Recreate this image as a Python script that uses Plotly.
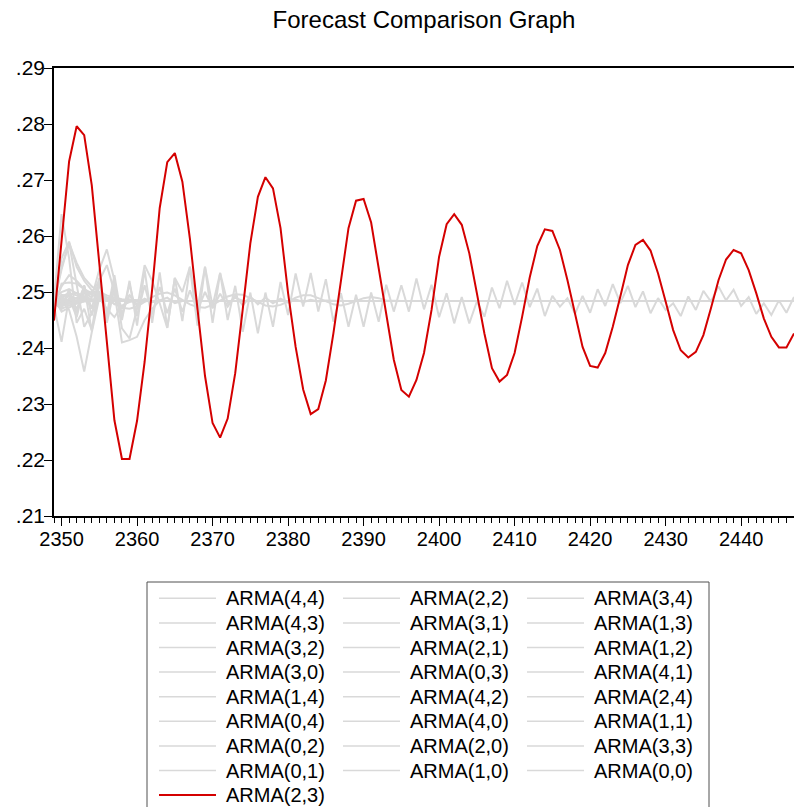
import plotly.graph_objects as go

periods = list(range(2349, 2448))
N = len(periods)
C = 0.2484

arma23 = [.2449, .2590, .2733, .2796, .2780, .2691, .2551, .2411, .2271, .2202,
          .2202, .2270, .2375, .2505, .2650, .2732, .2748, .2697, .2595, .2470,
          .2350, .2266, .2240, .2274, .2355, .2470, .2587, .2670, .2705, .2685,
          .2614, .2498, .2402, .2326, .2282, .2291, .2342, .2426, .2516, .2614,
          .2663, .2666, .2624, .2545, .2462, .2379, .2325, .2313, .2343, .2391,
          .2468, .2563, .2621, .2639, .2620, .2569, .2498, .2426, .2364, .2340,
          .2352, .2391, .2456, .2526, .2582, .2612, .2609, .2575, .2521, .2462,
          .2402, .2368, .2365, .2391, .2438, .2492, .2548, .2584, .2593, .2574,
          .2533, .2483, .2432, .2396, .2383, .2393, .2423, .2471, .2521, .2558,
          .2575, .2569, .2539, .2498, .2453, .2420, .2401, .2401, .2426]

zig_main = [.2484, .2475, .2500, .2478, .2510, .2470, .2525, .2460, .2530, .2450,
            .2520, .2440, .2540, .2445, .2535, .2436, .2525, .2448, .2545, .2440,
            .2545, .2445, .2534, .2450, .2511, .2429, .2499, .2426, .2499, .2438,
            .2518, .2459, .2533, .2474, .2534, .2465, .2523, .2447, .2498, .2438,
            .2495, .2438, .2499, .2447, .2513, .2465, .2512, .2465, .2524, .2469,
            .2513, .2455, .2498, .2444, .2491, .2444, .2483, .2456, .2508, .2471,
            .2520, .2477, .2517, .2473, .2506, .2457, .2493, .2474, .2489, .2461,
            .2493, .2463, .2505, .2475, .2514, .2480, .2511, .2473, .2501, .2462,
            .2489, .2468, .2480, .2457, .2492, .2468, .2502, .2483, .2510, .2485,
            .2504, .2475, .2491, .2461, .2480, .2459, .2485, .2463, .2491]

spike = [.2485, .2639, .2560, .2445, .2470, .2432, .2498, .2458, .2508, .2470,
         .2494, .2478, .2488, .2482, .2485]
hump_a = [.2480, .2540, .2588, .2516, .2438, .2462, .2500, .2490, .2478, .2485,
          .2487, .2483]
hump_b = [.2482, .2545, .2587, .2552, .2525, .2510, .2500, .2494, .2490, .2487,
          .2486, .2485]
hump_c = [.2478, .2560, .2590, .2545, .2520, .2503, .2495, .2490, .2487, .2485]
flat_hi = [.2470, .2515, .2517, .2515, .2505, .2498, .2493, .2489, .2487, .2485]
dip = [.2490, .2485, .2468, .2420, .2358, .2428, .2490, .2470, .2455, .2476,
       .2482, .2485]
zig_early = [.2475, .2411, .2490, .2455, .2510, .2430, .2520, .2445, .2506, .2462,
             .2495, .2475, .2487, .2482]
zig_decay = [.2484, .2470, .2505, .2462, .2512, .2458, .2515, .2455, .2516, .2455,
             .2514, .2457, .2512, .2460, .2509, .2462, .2506, .2465, .2503, .2468,
             .2500, .2471, .2497, .2474, .2494, .2476, .2492, .2478, .2490, .2480,
             .2488, .2481, .2487, .2482, .2486, .2483, .2485]
wobble = [.2484, .2478, .2482, .2490, .2497, .2500, .2496, .2488, .2479, .2472,
          .2470, .2474, .2482, .2491, .2497, .2499, .2494, .2486, .2478, .2473,
          .2472, .2477, .2485, .2492, .2496, .2495, .2489, .2482, .2476, .2474,
          .2477, .2483, .2490, .2494, .2494, .2489, .2483, .2478, .2476, .2479,
          .2484, .2489, .2491, .2489, .2485]
burst = [.2485, .2480, .2495, .2470, .2500, .2490, .2540, .2576, .2521, .2435,
         .2417, .2470, .2548, .2520, .2480, .2436, .2525, .2500, .2545, .2470,
         .2545, .2475, .2534, .2480, .2490, .2484]
low_dip = [.2485, .2475, .2480, .2470, .2490, .2500, .2520, .2548, .2500, .2410,
           .2414, .2420, .2450, .2470, .2485, .2490, .2480]
near_a = [.2475, .2495, .2492, .2488, .2486]
near_b = [.2492, .2478, .2480, .2483]
near_c = [.2486, .2500, .2505, .2497, .2490, .2486]
near_d = [.2480, .2470, .2476, .2481, .2483]
near_e = [.2484, .2489, .2495, .2498, .2493, .2487, .2485]
near_f = [.2478, .2510, .2530, .2520, .2505, .2495, .2489, .2486]
near_g = [.2490, .2465, .2472, .2480, .2484]
near_h = [.2484, .2484]
near_i = [.2482, .2488, .2486]
near_j = [.2479, .2492, .2498, .2494, .2488, .2485]

# legend order (row-major, 3 columns)
names = ["ARMA(4,4)", "ARMA(2,2)", "ARMA(3,4)",
         "ARMA(4,3)", "ARMA(3,1)", "ARMA(1,3)",
         "ARMA(3,2)", "ARMA(2,1)", "ARMA(1,2)",
         "ARMA(3,0)", "ARMA(0,3)", "ARMA(4,1)",
         "ARMA(1,4)", "ARMA(4,2)", "ARMA(2,4)",
         "ARMA(0,4)", "ARMA(4,0)", "ARMA(1,1)",
         "ARMA(0,2)", "ARMA(2,0)", "ARMA(3,3)",
         "ARMA(0,1)", "ARMA(1,0)", "ARMA(0,0)",
         "ARMA(2,3)"]
gray_data = [zig_main, spike, hump_a, hump_b, hump_c, flat_hi, dip, zig_early,
             zig_decay, wobble, burst, low_dip, near_a, near_b, near_c, near_d,
             near_e, near_f, near_g, near_h, near_i, near_j, near_a, near_b]


def pad(v):
    return list(v) + [C] * (N - len(v))


GRAY = "#d9d9d9"
RED = "#d40000"
FONT = "Liberation Sans, Arial, sans-serif"

fig = go.Figure()
for nm, vals in zip(names[:-1], gray_data):
    fig.add_trace(go.Scatter(x=periods, y=pad(vals), mode="lines", name=nm,
                             line=dict(color=GRAY, width=2), showlegend=False))
fig.add_trace(go.Scatter(x=periods, y=arma23, mode="lines", name=names[-1],
                         line=dict(color=RED, width=2), showlegend=False))

# plot-area geometry in pixels
L, R, T, B = 54, 794, 68, 516
W, H = R - L, B - T


def px(x):
    return (x - L) / W


def py(y):
    return (B - y) / H


shapes = [dict(type="rect", xref="paper", yref="paper",
               x0=px(147), x1=px(709), y0=py(582), y1=py(840),
               line=dict(color="#505050", width=1), fillcolor="white", layer="below")]
annotations = []
col_line_x = [159, 343, 527]
col_text_x = [226, 410, 594]
row0, pitch = 598.3, 24.6
for i, nm in enumerate(names):
    r, c = divmod(i, 3)
    yy = row0 + r * pitch
    color = RED if nm == "ARMA(2,3)" else GRAY
    shapes.append(dict(type="line", xref="paper", yref="paper",
                       x0=px(col_line_x[c]), x1=px(col_line_x[c] + 57),
                       y0=py(yy), y1=py(yy), line=dict(color=color, width=2 if color == RED else 1.5)))
    annotations.append(dict(xref="paper", yref="paper", x=px(col_text_x[c] - 2), y=py(yy),
                            xanchor="left", yanchor="middle", text=nm, showarrow=False,
                            font=dict(family=FONT, size=20, color="black")))

fig.update_layout(
    width=794, height=807,
    margin=dict(l=L, r=794 - R, t=T, b=807 - B, pad=0),
    paper_bgcolor="white", plot_bgcolor="white",
    font=dict(family=FONT, size=20, color="black"),
    title=dict(text="Forecast Comparison Graph", x=0.5, xref="paper",
               y=1 - 20 / 807, yref="container", yanchor="middle", xanchor="center",
               font=dict(family=FONT, size=24, color="black")),
    shapes=shapes, annotations=annotations,
    showlegend=False,
)
fig.update_xaxes(range=[2349, 2447], tickvals=list(range(2350, 2441, 10)),
                 ticks="outside", ticklen=8, tickcolor="black", tickwidth=1,
                 ticklabelstandoff=-4,
                 showline=True, linecolor="black", linewidth=1.5, mirror=True,
                 showgrid=False, zeroline=False,
                 minor=dict(dtick=1, tick0=2349, ticks="outside", ticklen=5,
                            tickcolor="black", showgrid=False),
                 tickfont=dict(family=FONT, size=20, color="black"))
yt = [0.21, 0.22, 0.23, 0.24, 0.25, 0.26, 0.27, 0.28, 0.29]
fig.update_yaxes(range=[0.21, 0.29], tickvals=yt,
                 ticktext=[".21", ".22", ".23", ".24", ".25", ".26", ".27", ".28", ".29"],
                 ticks="outside", ticklen=8, tickcolor="black", tickwidth=1,
                 ticklabelstandoff=-5,
                 showline=True, linecolor="black", linewidth=1.5, mirror=False,
                 showgrid=False, zeroline=False,
                 tickfont=dict(family=FONT, size=21, color="black"))

fig.write_html("out.html")
